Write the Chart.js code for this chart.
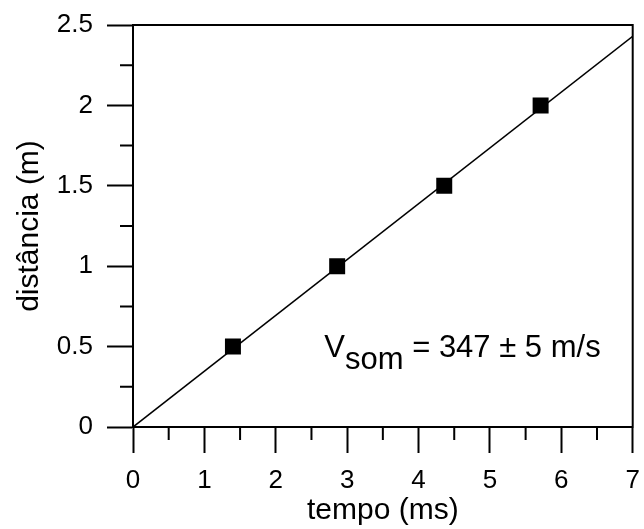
<!DOCTYPE html>
<html>
<head>
<meta charset="utf-8">
<script src="https://cdn.jsdelivr.net/npm/chart.js@4"></script>
<style>
html,body{margin:0;padding:0;background:#fff;}
canvas{display:block;}
</style>
</head>
<body>
<canvas id="c" width="644" height="529"></canvas>
<script>
// Data
const tempo = [1.40, 2.86, 4.36, 5.71];        // ms
const distancia = [0.5, 1.0, 1.5, 2.0];        // m
const fitTempo = [0, 7];
const fitDistancia = [0, 2.43];
const xTitle = 'tempo (ms)';
const yTitle = 'distância (m)';
const annotMain = 'V';
const annotSub = 'som';
const annotRest = ' = 347 ± 5 m/s';

const FONT = "'Liberation Sans', Arial, Helvetica, sans-serif";

const framePlugin = {
  id: 'frame',
  afterDraw(chart) {
    const {ctx, chartArea: a, scales: {x, y}} = chart;
    ctx.save();
    ctx.strokeStyle = '#000';
    ctx.lineWidth = 2;
    ctx.strokeRect(a.left, a.top, a.right - a.left, a.bottom - a.top);
    // minor ticks
    ctx.beginPath();
    for (let v = 0.5; v < 7; v += 1) {
      const px = x.getPixelForValue(v);
      ctx.moveTo(px, a.bottom);
      ctx.lineTo(px, a.bottom + 13);
    }
    for (let v = 0.25; v < 2.5; v += 0.5) {
      const py = y.getPixelForValue(v);
      ctx.moveTo(a.left, py);
      ctx.lineTo(a.left - 13, py);
    }
    ctx.stroke();
    // annotation
    ctx.fillStyle = '#000';
    ctx.textBaseline = 'alphabetic';
    ctx.textAlign = 'left';
    let tx = x.getPixelForValue(2.68);
    const ty = y.getPixelForValue(0.5) + 10;
    ctx.font = '31px ' + FONT;
    ctx.fillText(annotMain, tx, ty);
    tx += ctx.measureText(annotMain).width;
    ctx.fillText(annotSub, tx, ty + 12);
    tx += ctx.measureText(annotSub).width;
    ctx.fillText(annotRest, tx, ty);
    ctx.restore();
  }
};

new Chart(document.getElementById('c'), {
  type: 'scatter',
  data: {
    datasets: [
      {
        type: 'line',
        data: fitTempo.map((t, i) => ({x: t, y: fitDistancia[i]})),
        borderColor: '#000',
        borderWidth: 1.6,
        pointRadius: 0,
        fill: false
      },
      {
        data: tempo.map((t, i) => ({x: t, y: distancia[i]})),
        pointStyle: 'rect',
        pointRadius: 11.3,
        pointBorderWidth: 0,
        backgroundColor: '#000',
        borderColor: '#000'
      }
    ]
  },
  plugins: [framePlugin],
  options: {
    responsive: false,
    animation: false,
    events: [],
    layout: {padding: {left: 0, top: 25, right: 7, bottom: 0}},
    plugins: {legend: {display: false}, tooltip: {enabled: false}},
    scales: {
      x: {
        type: 'linear',
        min: 0, max: 7,
        ticks: {stepSize: 1, color: '#000', font: {family: FONT, size: 26}, padding: 12, maxRotation: 0},
        grid: {drawOnChartArea: false, tickLength: 26, tickWidth: 2, tickColor: '#000'},
        border: {display: true, color: '#000', width: 2},
        title: {display: true, text: xTitle, color: '#000', font: {family: FONT, size: 30}, padding: {top: 0, bottom: 0}},
        afterFit(s) { s.height = 102; s.paddingLeft = 0; s.paddingRight = 0; }
      },
      y: {
        type: 'linear',
        min: 0, max: 2.5,
        ticks: {stepSize: 0.5, color: '#000', font: {family: FONT, size: 26}, padding: 14,
                callback: v => String(v)},
        grid: {drawOnChartArea: false, tickLength: 26, tickWidth: 2, tickColor: '#000'},
        border: {display: true, color: '#000', width: 2},
        title: {display: true, text: yTitle, color: '#000', font: {family: FONT, size: 30}, padding: {top: 12, bottom: 0}},
        afterFit(s) { s.width = 133; s.paddingTop = 0; s.paddingBottom = 0; }
      }
    }
  }
});
</script>
</body>
</html>
